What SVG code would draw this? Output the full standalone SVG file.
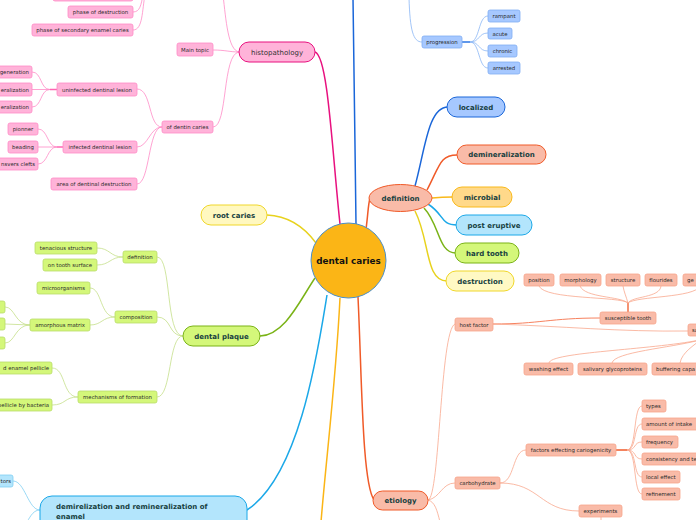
<svg xmlns="http://www.w3.org/2000/svg" width="696" height="520" viewBox="0 0 696 520">
<style>
text{font-family:"DejaVu Sans","Verdana",sans-serif}
.s{font-size:5.4px;fill:#2a2a2a}
.m{font-size:7px;font-weight:bold;fill:#173f3f}
.mc{text-anchor:middle}
.e{text-anchor:end}
.pk rect{fill:#ffb3d9;stroke:#ff8cc6;stroke-width:0.8}
.gr rect{fill:#d4f77a;stroke:#b9dc6a;stroke-width:0.8}
.sa rect{fill:#f9bba8;stroke:#f7a58c;stroke-width:0.8}
.lb rect{fill:#a6c8ff;stroke:#80adf2;stroke-width:0.8}
.cy rect{fill:#b3e5fc;stroke:#80cff2;stroke-width:0.8}
#connectors path{fill:none}
.cpk{stroke:#ff8cc6;stroke-width:0.8}
.cgr{stroke:#c5e08a;stroke-width:0.8}
.csa{stroke:#f9a88e;stroke-width:0.8}
.clb{stroke:#8ab6f5;stroke-width:0.8}
.ccy{stroke:#80cff2;stroke-width:0.8}
</style>
<rect width="696" height="520" fill="#ffffff"/>
<g id="connectors">
  <!-- main -->
  <path d="M315,52 C328,56 332,150 340,224" stroke="#e8117f" stroke-width="1.5"/>
  <path d="M356,224 C355,150 354,60 353,-2" stroke="#1a66d9" stroke-width="1.5"/>
  <path d="M366,229 C368,215 368,205 370,198" stroke="#f05a28" stroke-width="1.5"/>
  <path d="M267,215 C290,216 305,228 316,243" stroke="#e8d21d" stroke-width="1.5"/>
  <path d="M260,336 C285,335 300,300 315,278" stroke="#7ab317" stroke-width="1.5"/>
  <path d="M327,295 C318,350 300,475 247,510" stroke="#1ba8e8" stroke-width="1.5"/>
  <path d="M340,298 C336,380 326,460 321,522" stroke="#fbb516" stroke-width="1.5"/>
  <path d="M358,297 C362,380 362,482 374,500" stroke="#f05a28" stroke-width="1.5"/>
  <!-- definition children -->
  <path d="M415,186 C425,150 428,107 448,107" stroke="#1a66d9" stroke-width="1.5"/>
  <path d="M427,190 C440,165 440,155 457,155" stroke="#f05a28" stroke-width="1.5"/>
  <path d="M432,198 C442,197 444,197 453,197" stroke="#f9b91a" stroke-width="1.5"/>
  <path d="M428,204 C445,215 440,225 457,225" stroke="#1ba8e8" stroke-width="1.5"/>
  <path d="M424,208 C440,225 438,253 456,253" stroke="#7ab317" stroke-width="1.5"/>
  <path d="M415,211 C430,240 425,281 447,281" stroke="#e8d21d" stroke-width="1.5"/>
  <!-- progression -->
  <path class="clb" d="M409,-2 C410,30 413,42 422,42"/>
  <path d="M462,42 L470,42" stroke="#4d8ce8" stroke-width="1.8"/>
  <path class="clb" d="M470,42 C480,42 478,16 488,16"/>
  <path class="clb" d="M470,42 C480,42 478,33 488,33"/>
  <path class="clb" d="M470,42 C480,42 478,51 488,51"/>
  <path class="clb" d="M470,42 C480,42 478,68 488,68"/>
  <!-- histopathology subtree -->
  <path class="cpk" d="M239,52 C228,50 226,20 223,-5"/>
  <path class="cpk" d="M213,50 C225,50 230,52 239,52"/>
  <path class="cpk" d="M239,52 C222,54 228,127 213,127"/>
  <path class="cpk" d="M133,12 C140,12 141,5 143,-5"/>
  <path class="cpk" d="M133,30 C143,30 142,10 145,-5"/>
  <path class="cpk" d="M162,127 C148,127 152,89 137,89"/>
  <path class="cpk" d="M162,127 C150,127 148,147 137,147"/>
  <path class="cpk" d="M162,127 C148,127 150,184 137,184"/>
  <path d="M57,89.5 L50,89.5" stroke="#ff66b3" stroke-width="1.5"/>
  <path class="cpk" d="M50,89.5 C40,89.5 42,72 32,72"/>
  <path class="cpk" d="M50,89.5 L32,89.5"/>
  <path class="cpk" d="M50,89.5 C40,89.5 42,107 32,107"/>
  <path d="M63,147 L57,147" stroke="#ff66b3" stroke-width="1.5"/>
  <path class="cpk" d="M57,147 C47,147 48,129 38,129"/>
  <path class="cpk" d="M57,147 L38,147"/>
  <path class="cpk" d="M57,147 C47,147 48,164 38,164"/>
  <!-- dental plaque subtree -->
  <path class="cgr" d="M183,336 C165,336 172,257 157,257"/>
  <path class="cgr" d="M183,336 C168,336 172,317 157,317"/>
  <path class="cgr" d="M183,336 C168,336 172,397 157,397"/>
  <path class="cgr" d="M123,257 C110,257 110,248 97,248"/>
  <path class="cgr" d="M123,257 C110,257 110,265 97,265"/>
  <path class="cgr" d="M115,317 C100,317 102,288 90,288"/>
  <path class="cgr" d="M115,317 C102,317 102,325 90,325"/>
  <path class="cgr" d="M30,325 C15,325 15,307 5,307"/>
  <path class="cgr" d="M30,325 L5,324"/>
  <path class="cgr" d="M30,325 C15,325 15,343 5,343"/>
  <path class="cgr" d="M78,397 C62,397 66,368 52,368"/>
  <path class="cgr" d="M78,397 C64,397 66,405 52,405"/>
  <!-- demirelization -->
  <path class="ccy" d="M13,481 C25,481 28,510 40,510"/>
  <path class="ccy" d="M40,510 C34,510 31,515 27,522"/>
  <!-- etiology subtree -->
  <path class="csa" d="M428,500 C440,498 440,330 455,324"/>
  <path class="csa" d="M428,500 C440,498 442,483 455,483"/>
  <path class="csa" d="M428,500 C435,502 437,510 440,522"/>
  <path d="M493,324 C540,324 550,318 600,318" stroke="#f7825f" stroke-width="1"/>
  <path class="csa" d="M493,324 C560,326 620,332 688,331"/>
  <path d="M628,312 L628,303" stroke="#f05a28" stroke-width="1.3"/>
  <path class="csa" d="M628,303 C620,296 545,300 539,286"/>
  <path class="csa" d="M628,303 C620,296 585,298 580,286"/>
  <path class="csa" d="M628,303 C626,296 624,292 623,286"/>
  <path class="csa" d="M628,303 C632,296 660,298 661,286"/>
  <path class="csa" d="M628,303 C636,296 695,298 700,286"/>
  <path class="csa" d="M549,363 C550,352 650,350 700,340"/>
  <path class="csa" d="M612,363 C614,352 670,348 700,340"/>
  <path class="csa" d="M680,363 C682,352 695,345 700,340"/>
  <path class="csa" d="M500,483 C515,483 512,450 526,450"/>
  <path class="csa" d="M500,483 C540,483 540,511 579,511"/>
  <path d="M616,450 L627,450" stroke="#f05a28" stroke-width="1.5"/>
  <path class="csa" d="M627,450 C637,450 633,406 642,406"/>
  <path class="csa" d="M627,450 C637,450 633,424 642,424"/>
  <path class="csa" d="M627,450 C637,450 633,442 642,442"/>
  <path class="csa" d="M627,450 C637,450 633,459 642,459"/>
  <path class="csa" d="M627,450 C637,450 633,477 642,477"/>
  <path class="csa" d="M627,450 C637,450 633,494 642,494"/>
  <path class="csa" d="M601,517 L601,522"/>
</g>

<g id="center">
  <circle cx="348.5" cy="260.5" r="37.5" fill="#fbb516" stroke="#4a8fc9" stroke-width="1"/>
  <text x="348.5" y="264" class="mc" style="font-size:8.8px;font-weight:bold;fill:#111">dental caries</text>
</g>

<g id="histopathology">
  <rect x="239" y="42" width="76" height="20" rx="10" fill="#ffb3d9" stroke="#e8117f" stroke-width="1"/>
  <text x="277" y="54.5" class="mc" style="font-size:7px;fill:#333">histopathology</text>
</g>
<g id="localized"><rect x="447" y="97" width="58" height="20" rx="10" fill="#a6c8ff" stroke="#1a66d9" stroke-width="1"/><text x="476" y="109.5" class="m mc">localized</text></g>
<g id="demineralization"><rect x="457" y="145" width="89" height="19" rx="9.5" fill="#f9bba8" stroke="#f05a28" stroke-width="1"/><text x="501.5" y="157" class="m mc">demineralization</text></g>
<g id="microbial"><rect x="452" y="187" width="60" height="20" rx="10" fill="#ffd98a" stroke="#f9b91a" stroke-width="1"/><text x="482" y="199.5" class="m mc">microbial</text></g>
<g id="post-eruptive"><rect x="456" y="215" width="76" height="20" rx="10" fill="#b3e5fc" stroke="#1ba8e8" stroke-width="1"/><text x="494" y="227.5" class="m mc">post eruptive</text></g>
<g id="hard-tooth"><rect x="455" y="243" width="64" height="20" rx="10" fill="#d4f77a" stroke="#7ab317" stroke-width="1"/><text x="487" y="255.5" class="m mc">hard tooth</text></g>
<g id="destruction"><rect x="446" y="271" width="68" height="20" rx="10" fill="#fff9c4" stroke="#f0d72a" stroke-width="1"/><text x="480" y="283.5" class="m mc">destruction</text></g>
<g id="definition"><ellipse cx="400.5" cy="198" rx="31.5" ry="13.5" fill="#f9bba8" stroke="#f05a28" stroke-width="1"/><text x="400.5" y="200.5" class="m mc">definition</text></g>
<g id="root-caries"><rect x="201" y="205" width="66" height="20" rx="10" fill="#fff8c0" stroke="#f0d72a" stroke-width="1"/><text x="234" y="217.5" class="m mc">root caries</text></g>
<g id="dental-plaque"><rect x="183" y="326" width="77" height="20" rx="10" fill="#d4f77a" stroke="#7ab317" stroke-width="1"/><text x="221.5" y="338.5" class="m mc">dental plaque</text></g>
<g id="demirelization"><rect x="40" y="496" width="207" height="40" rx="12" fill="#b3e5fc" stroke="#1ba8e8" stroke-width="1"/><text x="56" y="508.5" class="m">demirelization and remineralization of</text><text x="56" y="518.5" class="m">enamel</text></g>
<g id="etiology"><rect x="373" y="491" width="55" height="19" rx="9.5" fill="#f9bba8" stroke="#f05a28" stroke-width="1"/><text x="400.5" y="503" class="m mc">etiology</text></g>

<!-- progression family -->
<g class="lb">
  <g id="progression"><rect x="422" y="36" width="40" height="12" rx="2"/><text x="442" y="44" class="s mc">progression</text></g>
  <g id="rampant"><rect x="488" y="10" width="32" height="12" rx="2"/><text x="504" y="18" class="s mc">rampant</text></g>
  <g id="acute"><rect x="488" y="28" width="24" height="11" rx="2"/><text x="500" y="35.5" class="s mc">acute</text></g>
  <g id="chronic"><rect x="488" y="45" width="29" height="12" rx="2"/><text x="502.5" y="53" class="s mc">chronic</text></g>
  <g id="arrested"><rect x="488" y="62" width="32" height="12" rx="2"/><text x="504" y="70" class="s mc">arrested</text></g>
</g>

<!-- histopathology subtree -->
<g class="pk">
  <g id="hp-top"><rect x="53" y="-11" width="80" height="12" rx="2"/></g>
  <g id="phase-destruction"><rect x="68" y="6" width="65" height="12" rx="2"/><text x="100.5" y="14" class="s mc">phase of destruction</text></g>
  <g id="phase-secondary"><rect x="32" y="24" width="101" height="12" rx="2"/><text x="82.5" y="32" class="s mc">phase of secondary enamel caries</text></g>
  <g id="main-topic"><rect x="177" y="43" width="36" height="13" rx="2"/><text x="195" y="51.5" class="s mc">Main topic</text></g>
  <g id="of-dentin-caries"><rect x="162" y="121" width="51" height="12" rx="2"/><text x="187.5" y="129" class="s mc">of dentin caries</text></g>
  <g id="uninfected"><rect x="57" y="83" width="80" height="13" rx="2"/><text x="97" y="91.5" class="s mc">uninfected dentinal lesion</text></g>
  <g id="u1"><rect x="-30" y="66" width="62" height="12" rx="2"/><text x="29" y="74" class="s e">generation</text></g>
  <g id="u2"><rect x="-30" y="83" width="62" height="13" rx="2"/><text x="29" y="91.5" class="s e">eralization</text></g>
  <g id="u3"><rect x="-30" y="101" width="62" height="12" rx="2"/><text x="29" y="109" class="s e">eralization</text></g>
  <g id="infected"><rect x="63" y="141" width="74" height="12" rx="2"/><text x="100" y="149" class="s mc">infected dentinal lesion</text></g>
  <g id="pionner"><rect x="8" y="123" width="30" height="12" rx="2"/><text x="23" y="131" class="s mc">pionner</text></g>
  <g id="beading"><rect x="8" y="141" width="30" height="12" rx="2"/><text x="23" y="149" class="s mc">beading</text></g>
  <g id="clefts"><rect x="-25" y="158" width="63" height="12" rx="2"/><text x="35" y="166" class="s e">nsvers clefts</text></g>
  <g id="area-destruction"><rect x="51" y="178" width="86" height="12" rx="2"/><text x="94" y="186" class="s mc">area of dentinal destruction</text></g>
</g>

<!-- dental plaque subtree -->
<g class="gr">
  <g id="pl-definition"><rect x="123" y="251" width="34" height="12" rx="2"/><text x="140" y="259" class="s mc">definition</text></g>
  <g id="tenacious"><rect x="35" y="242" width="62" height="12" rx="2"/><text x="66" y="250" class="s mc">tenacious structure</text></g>
  <g id="on-tooth"><rect x="43" y="259" width="54" height="12" rx="2"/><text x="70" y="267" class="s mc">on tooth surface</text></g>
  <g id="composition"><rect x="115" y="311" width="42" height="12" rx="2"/><text x="136" y="319" class="s mc">composition</text></g>
  <g id="microorganisms"><rect x="37" y="282" width="53" height="12" rx="2"/><text x="63.5" y="290" class="s mc">microorganisms</text></g>
  <g id="amorphous"><rect x="30" y="319" width="60" height="12" rx="2"/><text x="60" y="327" class="s mc">amorphous matrix</text></g>
  <g id="am1"><rect x="-25" y="301" width="30" height="12" rx="2"/></g>
  <g id="am2"><rect x="-25" y="318" width="30" height="12" rx="2"/></g>
  <g id="am3"><rect x="-25" y="337" width="30" height="12" rx="2"/></g>
  <g id="mechanisms"><rect x="78" y="391" width="79" height="12" rx="2"/><text x="117.5" y="399" class="s mc">mechanisms of formation</text></g>
  <g id="pellicle"><rect x="-25" y="362" width="77" height="12" rx="2"/><text x="49" y="370" class="s e">d enamel pellicle</text></g>
  <g id="bacteria"><rect x="-25" y="399" width="77" height="12" rx="2"/><text x="49" y="407" class="s e">pellicle by bacteria</text></g>
</g>

<g class="cy">
  <g id="factors-left"><rect x="-25" y="475" width="38" height="12" rx="2"/><text x="11" y="483" class="s e">tors</text></g>
</g>

<!-- etiology subtree -->
<g class="sa">
  <g id="host-factor"><rect x="455" y="318" width="38" height="13" rx="2"/><text x="474" y="326.5" class="s mc">host factor</text></g>
  <g id="susceptible"><rect x="600" y="312" width="56" height="12" rx="2"/><text x="628" y="320" class="s mc">susceptible tooth</text></g>
  <g id="position"><rect x="524" y="274" width="30" height="12" rx="2"/><text x="539" y="282" class="s mc">position</text></g>
  <g id="morphology"><rect x="560" y="274" width="41" height="12" rx="2"/><text x="580.5" y="282" class="s mc">morphology</text></g>
  <g id="structure"><rect x="606" y="274" width="34" height="12" rx="2"/><text x="623" y="282" class="s mc">structure</text></g>
  <g id="flourides"><rect x="645" y="274" width="32" height="12" rx="2"/><text x="661" y="282" class="s mc">flourides</text></g>
  <g id="ge"><rect x="683" y="274" width="40" height="12" rx="2"/><text x="687" y="282" class="s">ge</text></g>
  <g id="saliva"><rect x="688" y="324" width="30" height="12" rx="2"/><text x="692" y="332" class="s">sa</text></g>
  <g id="washing"><rect x="524" y="363" width="49" height="12" rx="2"/><text x="548.5" y="371" class="s mc">washing effect</text></g>
  <g id="glyco"><rect x="578" y="363" width="69" height="12" rx="2"/><text x="612.5" y="371" class="s mc">salivary glycoproteins</text></g>
  <g id="buffering"><rect x="652" y="363" width="60" height="12" rx="2"/><text x="656" y="371" class="s">buffering capa</text></g>
  <g id="carbohydrate"><rect x="455" y="477" width="45" height="12" rx="2"/><text x="477.5" y="485" class="s mc">carbohydrate</text></g>
  <g id="factors"><rect x="526" y="444" width="90" height="12" rx="2"/><text x="571" y="452" class="s mc">factors effecting cariogenicity</text></g>
  <g id="experiments"><rect x="579" y="505" width="43" height="12" rx="2"/><text x="600.5" y="513" class="s mc">experiments</text></g>
  <g id="types"><rect x="642" y="400" width="24" height="12" rx="2"/><text x="646" y="408" class="s">types</text></g>
  <g id="amount"><rect x="642" y="418" width="60" height="12" rx="2"/><text x="646" y="426" class="s">amount of intake</text></g>
  <g id="frequency"><rect x="642" y="436" width="36" height="12" rx="2"/><text x="646" y="444" class="s">frequency</text></g>
  <g id="consistency"><rect x="642" y="453" width="60" height="12" rx="2"/><text x="646" y="461" class="s">consistency and te</text></g>
  <g id="local-effect"><rect x="642" y="471" width="38" height="12" rx="2"/><text x="646" y="479" class="s">local effect</text></g>
  <g id="refinement"><rect x="642" y="488" width="38" height="12" rx="2"/><text x="646" y="496" class="s">refinement</text></g>
</g>
</svg>
